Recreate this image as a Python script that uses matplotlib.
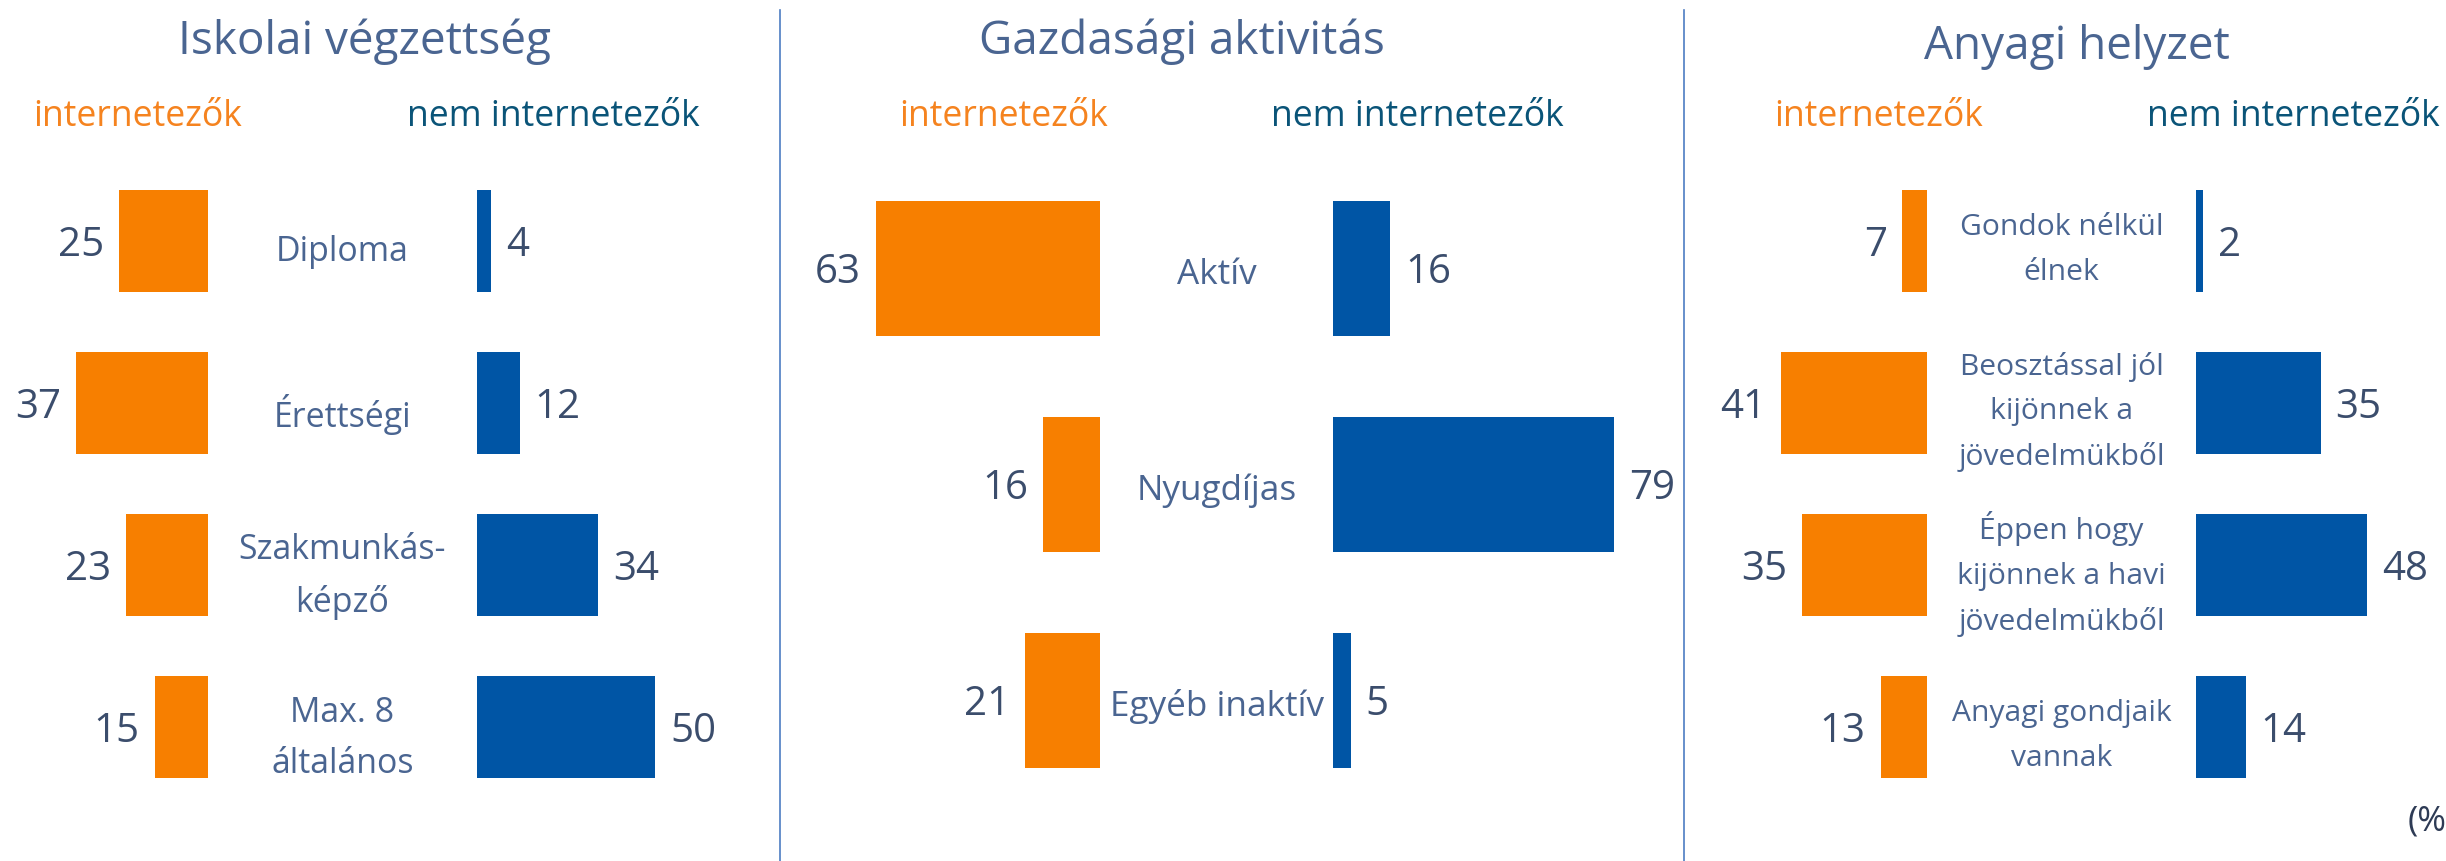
import matplotlib
matplotlib.use("Agg")
import matplotlib.pyplot as plt
from matplotlib.lines import Line2D

# ---------------- data ----------------
titles = ["Iskolai végzettség", "Gazdasági aktivitás", "Anyagi helyzet"]
legend_net = "internetezők"
legend_non = "nem internetezők"

edu_cats = ["Diploma", "Érettségi", "Szakmunkás-\nképző", "Max. 8\náltalános"]
edu_net = [25, 37, 23, 15]
edu_non = [4, 12, 34, 50]

act_cats = ["Aktív", "Nyugdíjas", "Egyéb inaktív"]
act_net = [63, 16, 21]
act_non = [16, 79, 5]

fin_cats = ["Gondok nélkül\nélnek",
            "Beosztással jól\nkijönnek a\njövedelmükből",
            "Éppen hogy\nkijönnek a havi\njövedelmükből",
            "Anyagi gondjaik\nvannak"]
fin_net = [7, 41, 35, 13]
fin_non = [2, 35, 48, 14]

unit_label = "(%)"

# ---------------- style ----------------
W, H, DPI = 2446, 861, 100
ORANGE = "#F77F00"
BLUE = "#0055A5"
LEG_ORANGE = "#F5831F"
LEG_BLUE = "#0A5478"
TEXT = "#4A6591"
NUM = "#3B4D6C"
DIV = "#4D7DC2"

plt.rcParams["font.family"] = ["Open Sans", "DejaVu Sans"]

fig = plt.figure(figsize=(W / DPI, H / DPI), dpi=DPI)
fig.patch.set_facecolor("white")


def fx(px):
    return px / W


def fy(py):
    return 1 - py / H


S = 3.56          # pixels per percentage point
TOP, BOT = 160, 808

panels = [
    dict(title=titles[0], cats=edu_cats, net=edu_net, non=edu_non,
         left=0, right=780, gl=208, gr=477, tx=364, ty=54,
         lx=(138, 553), csize=24.4, ls=1.63, off=11.5),
    dict(title=titles[1], cats=act_cats, net=act_net, non=act_non,
         left=780, right=1684, gl=1100, gr=1333, tx=1182, ty=54,
         lx=(1004, 1417), csize=25.3, ls=1.63, off=7),
    dict(title=titles[2], cats=fin_cats, net=fin_net, non=fin_non,
         left=1684, right=W, gl=1927, gr=2196, tx=2077, ty=59,
         lx=(1879, 2293), csize=21.6, ls=1.71, off=9),
]

for p in panels:
    C = (p["gl"] + p["gr"]) / 2
    g = (p["gr"] - p["gl"]) / 2 / S
    ax = fig.add_axes([fx(p["left"]), fy(BOT), fx(p["right"] - p["left"]),
                       (BOT - TOP) / H])
    ax.set_xlim((p["left"] - C) / S, (p["right"] - C) / S)
    n = len(p["cats"])
    ax.set_ylim(n - 0.5, -0.5)
    ax.axis("off")
    ys = list(range(n))
    ax.barh(ys, [-v for v in p["net"]], left=-g, height=0.625,
            color=ORANGE, linewidth=0)
    ax.barh(ys, p["non"], left=g, height=0.625, color=BLUE, linewidth=0)
    pad = 15 / S
    for i, v in enumerate(p["net"]):
        ax.text(-g - v - pad, i, str(v), ha="right", va="center_baseline",
                color=NUM, fontsize=29)
    for i, v in enumerate(p["non"]):
        ax.text(g + v + pad, i, str(v), ha="left", va="center_baseline",
                color=NUM, fontsize=29)
    for i, lab in enumerate(p["cats"]):
        ax.annotate(lab, (0, i), xytext=(0, -p["off"] * 0.72),
                    textcoords="offset points", ha="center", va="center",
                    multialignment="center", linespacing=p["ls"],
                    fontsize=p["csize"], color=TEXT)
    # titles and legend words
    fig.text(fx(p["tx"]), fy(p["ty"]), p["title"], ha="center",
             va="baseline", fontsize=33, color=TEXT)
    fig.text(fx(p["lx"][0]), fy(126), legend_net, ha="center",
             va="baseline", fontsize=25.6, color=LEG_ORANGE)
    fig.text(fx(p["lx"][1]), fy(126), legend_non, ha="center",
             va="baseline", fontsize=25.6, color=LEG_BLUE)

# dividers
for xd in (780, 1684):
    fig.add_artist(Line2D([fx(xd), fx(xd)], [fy(10), fy(H)],
                          transform=fig.transFigure, color=DIV, lw=1.2))

fig.text(fx(2408), fy(822), unit_label, ha="left", va="center",
         fontsize=25, color="#2E3B55")

fig.savefig("out.png", dpi=DPI, facecolor="white")
